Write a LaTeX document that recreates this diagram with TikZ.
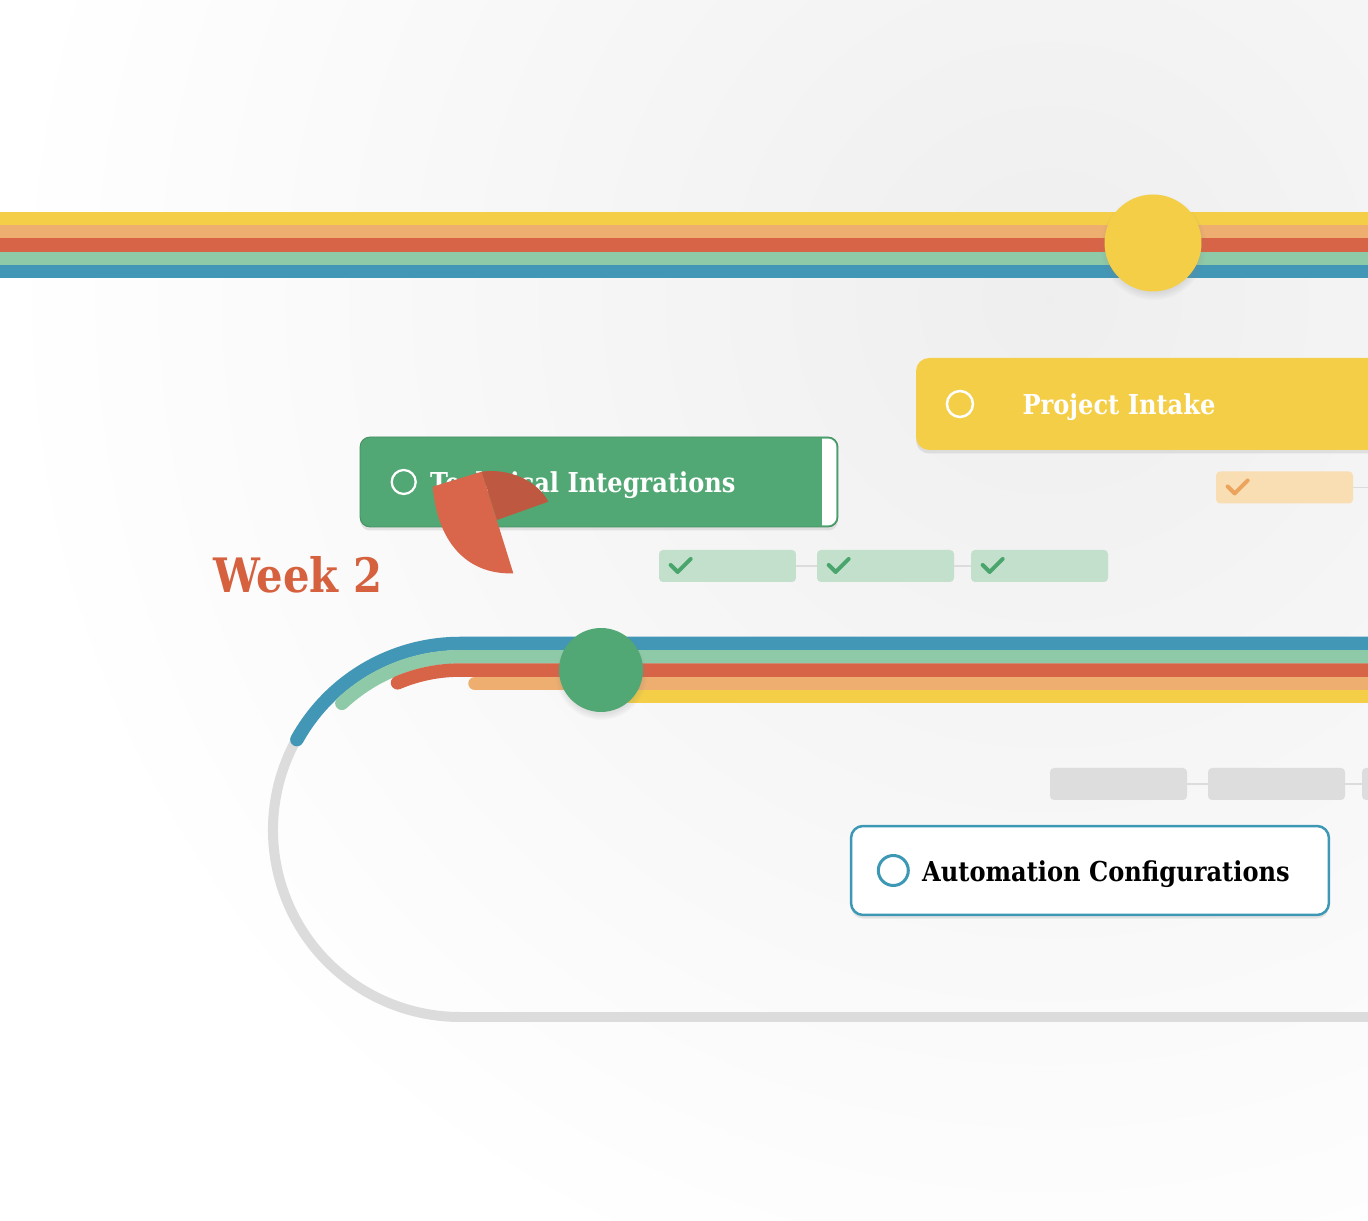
\documentclass[tikz,border=0pt]{standalone}
\usepackage{fontspec}
\setmainfont{DejaVu Serif}[FakeStretch=0.88]
\usetikzlibrary{positioning,shadows,calc}

\definecolor{bandyellow}{HTML}{F4CE47}
\definecolor{bandorange}{HTML}{EDAE70}
\definecolor{bandred}{HTML}{D86448}
\definecolor{bandmint}{HTML}{8FCAA8}
\definecolor{bandblue}{HTML}{4296B6}
\definecolor{stagegreen}{HTML}{52A874}
\definecolor{taskgreen}{HTML}{C2E0CB}
\definecolor{tickgreen}{HTML}{4AA56D}
\definecolor{taskorange}{HTML}{F8DEB2}
\definecolor{tickorange}{HTML}{EBA35E}
\definecolor{taskgray}{HTML}{DDDDDD}
\definecolor{trackgray}{HTML}{DCDCDC}
\definecolor{stageteal}{HTML}{3D98B5}
\definecolor{weekred}{HTML}{D6613F}
\definecolor{pielight}{HTML}{D9654A}
\definecolor{piedark}{HTML}{BE5840}

\begin{document}
\begin{tikzpicture}[
  x=0.02cm, y=0.02cm,
  band/.style={line width=0.27cm},
  bandend/.style={band, line cap=round},
  track/.style={line width=0.2cm, trackgray},
  stage/.style={rounded corners=0.26cm, minimum height=1.8cm,
                minimum width=9.56cm, inner sep=0,
                drop shadow={opacity=0.18, shadow xshift=0pt, shadow yshift=-2pt}},
  ring/.style={circle, draw, inner sep=0},
  lbl/.style={inner sep=0, font=\fontsize{15.6}{18}\selectfont\bfseries},
  task/.style={rounded corners=0.08cm, minimum width=2.74cm,
               minimum height=0.64cm, inner sep=0},
  link/.style={draw=trackgray, line width=0.8pt},
  milestone/.style={circle, inner sep=0,
                    circular drop shadow={opacity=0.2, shadow xshift=0pt, shadow yshift=-2pt}},
  pics/tick/.style={code={
    \draw[line width=0.08cm, line cap=round, line join=round, #1]
      (-10,1) -- (-3,-6) -- (10,7);}},
]
  % canvas
  \useasboundingbox (0,0) rectangle (1368,1220);
  \clip (0,0) rectangle (1368,1220);
  \fill[white] (0,0) rectangle (1368,1220);
  \shade[inner color=gray!13, outer color=white] (1050,920) circle[radius=1050];

  % top band
  \foreach \col/\yy in {bandyellow/1001.7, bandorange/988.3, bandred/975,
                        bandmint/961.7, bandblue/948.3}
    \draw[band, \col] (-10,\yy) -- (1400,\yy);
  \node[milestone, fill=bandyellow, minimum size=1.94cm] (mtop) at (1153,977) {};

  % project intake
  \node[stage, fill=bandyellow, minimum width=9.68cm, minimum height=1.84cm] (intake) at (1158,816) {};
  \node[ring, draw=white, line width=0.05cm, minimum size=0.52cm, right=0.6cm of intake.west] (intakering) {};
  \node[lbl, text=white, right=0.96cm of intakering, yshift=-2pt] (intaketxt) {Project Intake};
  \node[task, fill=taskorange] (pitask) at (1284.5,732.5) {};
  \pic at ([xshift=0.44cm]pitask.west) {tick=tickorange};
  \coordinate (piout) at (1400,732.5);
  \draw[link] ($(pitask.north)+(6,0)$) -- ($(pitask.north)+(6,0)$ |- intake.south);
  \draw[link] (pitask.east) -- (piout);

  % technical integrations
  \node[stage, fill=stagegreen, draw=stagegreen!85!black, line width=0.5pt,
        rounded corners=0.2cm] (tech) at (599,738) {};
  \begin{scope}
    \clip[rounded corners=0.17cm] ($(tech.south west)+(2,2)$) rectangle ($(tech.north east)+(-2,-2)$);
    \fill[white] ($(tech.north east)+(-16,0)$) rectangle (tech.south east);
  \end{scope}
  \node[ring, draw=white, line width=0.045cm, minimum size=0.48cm, right=0.62cm of tech.west] (techring) {};
  \node[lbl, text=white, right=0.26cm of techring, yshift=-2pt] (techtxt) {Technical Integrations};
  \foreach \i/\xx in {1/727.5, 2/885.5, 3/1039.5} {
    \node[task, fill=taskgreen] (sub\i) at (\xx,654) {};
    \pic at ([xshift=0.44cm]sub\i.west) {tick=tickgreen};
  }
  \draw[link] ($(sub1.north)+(6,0)$) -- ($(sub1.north)+(6,0)$ |- tech.south);
  \draw[link] (sub1.east) -- (sub2.west);
  \draw[link] (sub2.east) -- (sub3.west);

  % pie cursor
  \fill[pielight] (432.7,733.3) -- (481.7,748.3) -- (513.3,646.7)
    .. controls (472,645) and (438,672) .. (432.7,733.3) -- cycle;
  \fill[piedark] (481.7,748.3) .. controls (508,752) and (537,740) .. (548.3,718.3)
    -- (497,700) -- cycle;

  \node[inner sep=0, anchor=base west, text=weekred,
        font=\fontsize{27}{30}\selectfont\bfseries] (week) at (213,627) {Week 2};

  % lower loop
  \draw[track] (460,390) ++(151:187) arc[start angle=151, end angle=270, radius=187] -- (1400,203);
  \draw[bandend, bandblue] (460,390) ++(151:186.5) arc[start angle=151, end angle=90, radius=186.5] -- (1400,576.5);
  \draw[bandend, bandmint] (460,390) ++(133:173.2) arc[start angle=133, end angle=90, radius=173.2] -- (1400,563.2);
  \draw[bandend, bandred] (460,390) ++(113:159.9) arc[start angle=113, end angle=90, radius=159.9] -- (1400,549.9);
  \draw[bandend, bandorange] (475,536.6) -- (1400,536.6);
  \draw[bandend, bandyellow] (600,523.3) -- (1400,523.3);
  \node[milestone, fill=stagegreen, minimum size=1.68cm] (mlow) at (601,550) {};

  % automation configurations
  \foreach \i/\xx in {1/1118.5, 2/1276.5, 3/1430.5}
    \node[task, fill=taskgray] (auto\i) at (\xx,436) {};
  \draw[link] (auto1.east) -- (auto2.west);
  \draw[link] (auto2.east) -- (auto3.west);
  \node[stage, fill=white, draw=stageteal, line width=0.05cm, rounded corners=0.24cm,
        minimum height=1.78cm, drop shadow={opacity=0}] (auto) at (1090,349.5) {};
  \draw[link] ($(auto1.south)+(6,0)$) -- ($(auto1.south)+(6,0)$ |- auto.north);
  \node[ring, draw=stageteal, line width=0.06cm, minimum size=0.6cm, right=0.54cm of auto.west] (autoring) {};
  \node[lbl, text=black, right=0.24cm of autoring, yshift=-2pt] (autotxt) {Automation Configurations};
\end{tikzpicture}
\end{document}
